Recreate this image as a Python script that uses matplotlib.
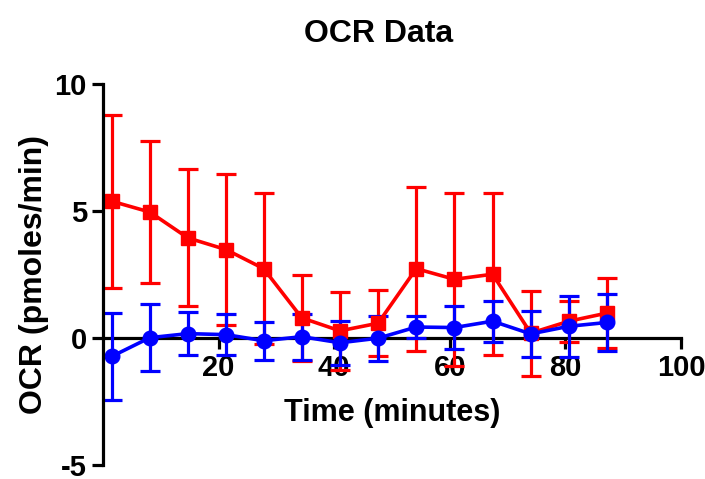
import numpy as np
import matplotlib.pyplot as plt

plt.rcParams['font.family'] = ['Liberation Sans', 'DejaVu Sans']
plt.rcParams['font.weight'] = 'bold'
plt.rcParams['axes.unicode_minus'] = False

# Time points (minutes)
time_min = [1.6, 8.1, 14.7, 21.3, 27.8, 34.4, 41.0, 47.6, 54.2, 60.8, 67.4, 74.0, 80.6, 87.2]

# Red series (mean +/- SD)
red_mean = [5.37, 4.95, 3.93, 3.47, 2.72, 0.78, 0.27, 0.57, 2.72, 2.3, 2.5, 0.18, 0.65, 0.97]
red_sd = [3.41, 2.78, 2.7, 2.96, 2.97, 1.69, 1.53, 1.31, 3.23, 3.4, 3.2, 1.67, 0.8, 1.38]

# Blue series (mean +/- SD)
blue_mean = [-0.73, 0.0, 0.16, 0.12, -0.12, 0.04, -0.2, -0.02, 0.42, 0.4, 0.65, 0.15, 0.45, 0.6]
blue_sd = [1.72, 1.33, 0.84, 0.82, 0.75, 0.9, 0.87, 0.88, 0.42, 0.85, 0.8, 0.92, 1.2, 1.12]

fig = plt.figure(figsize=(7.05, 4.79), dpi=100)
ax = fig.add_axes([0.146, 0.03, 0.82, 0.795])

ax.errorbar(time_min, red_mean, yerr=red_sd, color='#ff0000', marker='s',
            markersize=10.5, linewidth=2.6, elinewidth=2.3, capsize=7, capthick=2.3)
ax.errorbar(time_min, blue_mean, yerr=blue_sd, color='#0000ff', marker='o',
            markersize=10.5, linewidth=2.6, elinewidth=2.3, capsize=7, capthick=2.3)

ax.set_xlim(0, 100)
ax.set_ylim(-5, 10)
ax.set_yticks([-5, 0, 5, 10])
ax.set_xticks([20, 40, 60, 80, 100])

ax.spines['top'].set_visible(False)
ax.spines['right'].set_visible(False)
ax.spines['bottom'].set_position(('data', 0))
ax.spines['bottom'].set_linewidth(2.3)
ax.spines['left'].set_linewidth(2.3)
ax.spines['bottom'].set_zorder(0)

ax.tick_params(axis='both', width=2.3, length=8, labelsize=21)
ax.tick_params(axis='x', pad=4)

ax.set_xlabel('Time (minutes)', fontsize=22, fontweight='bold')
ax.xaxis.set_label_coords(0.5, 0.175)
ax.set_ylabel('OCR (pmoles/min)', fontsize=23, fontweight='bold', labelpad=4)
ax.set_title('OCR Data', fontsize=23, fontweight='bold', pad=30, x=0.476)

plt.savefig('out.png')
